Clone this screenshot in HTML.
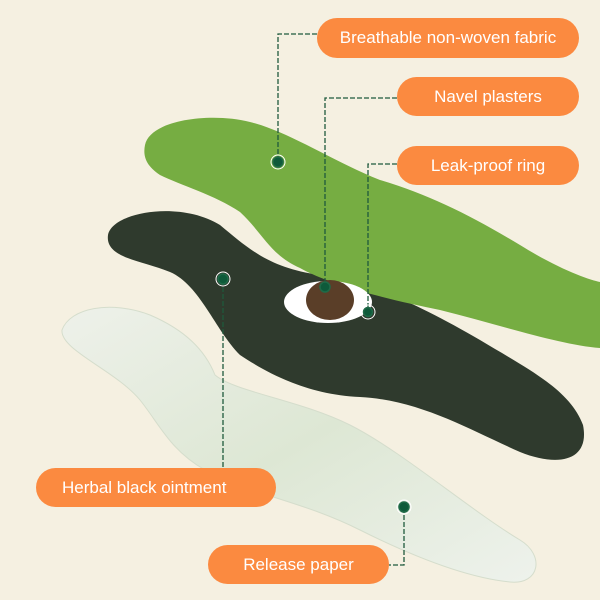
<!DOCTYPE html>
<html><head><style>
body{margin:0;width:600px;height:600px;overflow:hidden;background:#f5f0e1;font-family:"Liberation Sans",sans-serif}
.p{position:absolute;background:#fb8a40;color:#fff;border-radius:20px;font-size:17px;display:flex;align-items:center;justify-content:center}
</style></head><body>
<svg width="600" height="600" style="position:absolute;left:0;top:0">
<defs>
<linearGradient id="w" x1="0" y1="0" x2="1" y2="1"><stop offset="0" stop-color="#eef1ea"/><stop offset="0.5" stop-color="#dde7d4"/><stop offset="1" stop-color="#eef2ec"/></linearGradient>
</defs>
<path d="M62,330 C70,308 110,300 150,315 C185,330 205,350 215,375 C235,392 300,400 350,425 C400,450 470,510 520,540 C545,555 540,585 510,582 C470,578 420,560 360,530 C300,500 250,495 205,470 C170,450 160,425 140,400 C115,370 60,350 62,330Z" fill="url(#w)" stroke="#d5ddcc" stroke-width="1"/>
<path d="M108,235 C112,212 180,200 220,225 C250,250 270,268 320,275 C370,282 420,305 480,340 C530,370 570,390 583,425 C590,460 560,468 520,452 C470,430 420,400 360,397 C310,395 270,375 240,355 C215,330 200,285 170,272 C140,260 105,258 108,235Z" fill="#2f3a2d"/>
<path d="M145,145 C150,120 210,112 250,122 C290,132 330,160 380,180 C430,195 470,215 520,245 C560,270 590,280 600,282 L600,348 C560,345 500,325 440,310 C390,300 330,285 300,268 C270,255 262,232 240,212 C215,195 180,185 160,175 C145,165 143,155 145,145Z" fill="#76ad42"/>
<ellipse cx="328" cy="302" rx="44" ry="21" fill="#fff"/>
<ellipse cx="330" cy="300" rx="24" ry="20" fill="#5a3e28"/>
<g fill="none" stroke="#1f5a3c" stroke-width="1.3" stroke-dasharray="5,2">
<path d="M317,34 H278 V160"/><path d="M397,98 H325 V285"/><path d="M397,164 H368 V311"/><path d="M223,280 V468"/><path d="M404,508 V565 H389"/>
</g>
<g fill="#0e5a3a" stroke="#1f6a48" stroke-width="1.5">
<circle cx="278" cy="162" r="5"/><circle cx="325" cy="287" r="5"/><circle cx="368" cy="312" r="4.5"/><circle cx="223" cy="279" r="5"/><circle cx="404" cy="507" r="5"/>
</g>
<g fill="none" stroke="#fff" stroke-width="1"><circle cx="278" cy="162" r="7"/><circle cx="368" cy="312" r="7"/><circle cx="223" cy="279" r="7"/><circle cx="404" cy="507" r="7"/></g>
</svg>
<div class="p" style="left:317px;top:18px;width:262px;height:40px">Breathable non-woven fabric</div>
<div class="p" style="left:397px;top:77px;width:182px;height:39px">Navel plasters</div>
<div class="p" style="left:397px;top:146px;width:182px;height:39px">Leak-proof ring</div>
<div class="p" style="left:36px;top:468px;width:240px;height:39px;justify-content:flex-start;padding-left:26px;box-sizing:border-box">Herbal black ointment</div>
<div class="p" style="left:208px;top:545px;width:181px;height:39px">Release paper</div>
</body></html>
